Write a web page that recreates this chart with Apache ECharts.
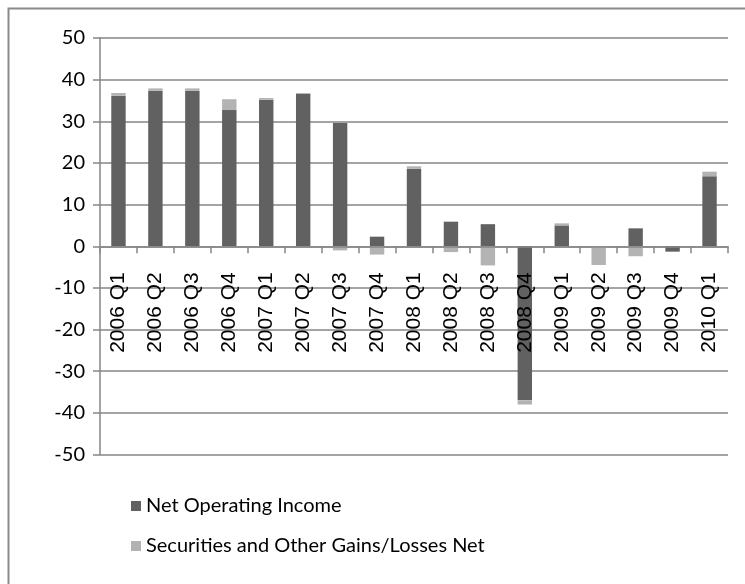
<!DOCTYPE html>
<html>
<head>
<meta charset="utf-8">
<script src="https://cdn.jsdelivr.net/npm/echarts@6/dist/echarts.min.js"></script>
<style>
html,body{margin:0;padding:0;background:#fff;}
#chart{width:745px;height:584px;}
</style>
</head>
<body>
<div id="chart"></div>
<script>
const categories = ["2006 Q1","2006 Q2","2006 Q3","2006 Q4","2007 Q1","2007 Q2","2007 Q3","2007 Q4","2008 Q1","2008 Q2","2008 Q3","2008 Q4","2009 Q1","2009 Q2","2009 Q3","2009 Q4","2010 Q1"];
const netOperatingIncome = [36.1, 37.3, 37.3, 32.7, 35.2, 36.6, 29.6, 2.3, 18.6, 5.9, 5.3, -37.0, 5.0, 0, 4.3, -1.3, 16.8];
const securitiesGains = [0.7, 0.6, 0.6, 2.6, 0.4, 0.2, -1.0, -2.0, 0.6, -1.4, -4.6, -1.0, 0.5, -4.5, -2.4, 0, 1.1];
const seriesNames = ["Net Operating Income", "Securities and Other Gains/Losses Net"];
const yTicks = { min: -50, max: 50, interval: 10 };

const gridTop = 38, gridBottom = 129.5, chartH = 584;
const gridH = chartH - gridTop - gridBottom;
// offset the category axis from the grid bottom up to the value 0
const zeroOffset = -gridH * (0 - yTicks.min) / (yTicks.max - yTicks.min);

const chart = echarts.init(document.getElementById('chart'), null, { renderer: 'canvas' });
chart.setOption({
  animation: false,
  backgroundColor: '#fff',
  graphic: [{
    type: 'rect',
    shape: { x: 8.5, y: 8.5, width: 800, height: 700 },
    style: { fill: 'none', stroke: '#8a8a8a', lineWidth: 2 },
    silent: true
  }],
  grid: { left: 100, right: 17, top: gridTop, bottom: gridBottom },
  legend: {
    orient: 'vertical',
    left: 126,
    top: 491,
    itemWidth: 10,
    itemHeight: 10,
    itemGap: 20,
    icon: 'rect',
    textStyle: { fontFamily: 'Lato', fontSize: 20, color: '#000' },
    data: seriesNames
  },
  xAxis: {
    type: 'category',
    data: categories,
    position: 'bottom',
    offset: zeroOffset,
    z: 5,
    axisLine: { onZero: false, lineStyle: { color: '#868686', width: 1.5 } },
    axisTick: { show: true, length: 7, inside: false, lineStyle: { color: '#868686', width: 1.5 } },
    axisLabel: { rotate: 90, margin: 26, fontFamily: 'Liberation Sans', fontSize: 21, color: '#000', interval: 0 },
    splitLine: { show: false }
  },
  yAxis: {
    type: 'value',
    min: yTicks.min,
    max: yTicks.max,
    interval: yTicks.interval,
    axisLine: { show: true, lineStyle: { color: '#868686', width: 1.5 } },
    axisTick: { show: true, length: 7, lineStyle: { color: '#868686', width: 1.5 } },
    axisLabel: { margin: 15, fontFamily: 'Lato', fontSize: 20, color: '#000' },
    splitLine: { show: true, lineStyle: { color: '#868686', width: 1.5 } }
  },
  series: [
    {
      name: seriesNames[0],
      type: 'bar',
      stack: 'total',
      barWidth: '39%',
      itemStyle: { color: '#616161' },
      data: netOperatingIncome
    },
    {
      name: seriesNames[1],
      type: 'bar',
      stack: 'total',
      barWidth: '39%',
      itemStyle: { color: '#b3b3b3' },
      data: securitiesGains
    }
  ]
});
</script>
</body>
</html>
